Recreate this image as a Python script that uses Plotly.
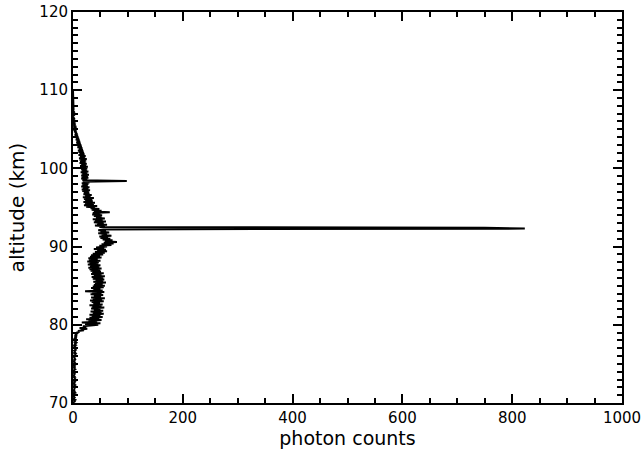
import numpy as np
import plotly.graph_objects as go

# altitude grid (km), 0.1 km bins from 70 to 110
altitude = np.round(np.arange(70.0, 110.001, 0.1), 1)

# photon counts per bin, ten bins per km (x.0 ... x.9)
counts = [
    2, 1, 3, 2, 4, 1, 2, 3, 1, 2,          # 70
    3, 2, 1, 4, 2, 3, 1, 2, 2, 3,          # 71
    1, 3, 2, 4, 2, 1, 3, 2, 4, 3,          # 72
    2, 3, 4, 2, 3, 1, 2, 3, 2, 4,          # 73
    3, 1, 2, 4, 2, 3, 1, 3, 2, 4,          # 74
    2, 4, 3, 1, 3, 2, 4, 3, 2, 3,          # 75
    4, 2, 3, 5, 2, 4, 3, 2, 5, 3,          # 76
    3, 5, 4, 2, 5, 3, 4, 6, 3, 5,          # 77
    4, 6, 3, 5, 4, 7, 3, 6, 5, 8,          # 78
    6, 12, 9, 20, 14, 26, 12, 24, 18, 34,  # 79
    46, 22, 50, 16, 44, 28, 52, 24, 48, 30,  # 80
    54, 34, 50, 30, 56, 36, 52, 32, 55, 38,  # 81
    50, 33, 57, 35, 52, 30, 54, 37, 49, 34,  # 82
    56, 31, 53, 36, 58, 33, 51, 38, 55, 32,  # 83
    52, 35, 57, 22, 54, 37, 50, 33, 56, 36,  # 84
    58, 38, 54, 40, 60, 37, 55, 41, 57, 36,  # 85
    55, 34, 58, 38, 52, 33, 56, 35, 51, 32,  # 86
    49, 30, 52, 28, 48, 31, 50, 27, 46, 30,  # 87
    47, 26, 50, 29, 45, 28, 52, 31, 49, 33,  # 88
    55, 36, 58, 40, 62, 44, 60, 38, 57, 42,  # 89
    62, 48, 70, 52, 74, 56, 80, 58, 72, 54,  # 90
    68, 50, 64, 48, 70, 52, 62, 46, 66, 50,  # 91
    60, 46, 55, 823, 750, 48, 58, 40, 62, 44,  # 92
    56, 38, 60, 40, 54, 36, 58, 42, 52, 38,  # 93
    53, 35, 50, 36, 67, 38, 52, 34, 48, 32,  # 94
    40, 24, 44, 20, 38, 22, 40, 19, 36, 22,  # 95
    35, 20, 38, 18, 32, 22, 34, 19, 30, 20,  # 96
    29, 17, 31, 16, 28, 18, 30, 15, 27, 17,  # 97
    28, 16, 30, 18, 98, 17, 26, 15, 28, 16,  # 98
    27, 15, 29, 17, 26, 14, 28, 16, 25, 15,  # 99
    26, 14, 27, 13, 24, 15, 25, 12, 23, 13,  # 100
    24, 12, 25, 11, 22, 13, 23, 10, 21, 12,  # 101
    20, 10, 19, 9, 18, 11, 17, 8, 16, 9,    # 102
    15, 7, 14, 6, 13, 7, 12, 5, 11, 6,      # 103
    10, 4, 9, 3, 8, 4, 7, 2, 6, 3,          # 104
    5, 2, 4, 1, 4, 2, 3, 1, 3, 1,           # 105
    2, 1, 2, 0, 2, 1, 1, 0, 2, 1,           # 106
    1, 0, 2, 1, 0, 1, 1, 0, 1, 0,           # 107
    1, 0, 1, 0, 1, 0, 0, 1, 0, 1,           # 108
    0, 1, 0, 0, 1, 0, 0, 1, 0, 0,           # 109
    0,                                      # 110
]

x_ticks = [0, 200, 400, 600, 800, 1000]
y_ticks = [70, 80, 90, 100, 110, 120]

fig = go.Figure()
fig.add_trace(go.Scatter(
    x=counts, y=altitude, mode="lines",
    line=dict(color="black", width=2),
    showlegend=False, hoverinfo="skip",
))

axis_common = dict(
    showgrid=False, zeroline=False, automargin=False,
    showline=True, linecolor="black", linewidth=2,
    mirror="allticks", ticks="inside", tickcolor="black",
    tickwidth=1.5, ticklen=9, ticklabeloverflow="allow",
    tickfont=dict(family="DejaVu Sans", size=15, color="black"),
)

fig.update_xaxes(
    range=[0, 1000], tickvals=x_ticks, ticktext=[str(v) for v in x_ticks],
    minor=dict(dtick=50, ticks="inside", ticklen=5, tickwidth=1.5, tickcolor="black"),
    title=dict(text="photon counts", font=dict(family="DejaVu Sans", size=19, color="black"), standoff=6),
    **axis_common,
)
fig.update_yaxes(
    range=[70, 120], tickvals=y_ticks, ticktext=[str(v) for v in y_ticks],
    minor=dict(dtick=1, ticks="inside", ticklen=5, tickwidth=1.5, tickcolor="black"),
    title=dict(text="altitude (km)", font=dict(family="DejaVu Sans", size=20, color="black"), standoff=9),
    **axis_common,
)

fig.update_layout(
    width=643, height=457,
    margin=dict(l=73, r=21, t=12, b=54),
    paper_bgcolor="white", plot_bgcolor="white",
)

# remove the default page margin so the figure sits at the window's top-left corner
fig.write_html("out.html", config={"displayModeBar": False},
               post_script="document.body.style.margin='0';")
